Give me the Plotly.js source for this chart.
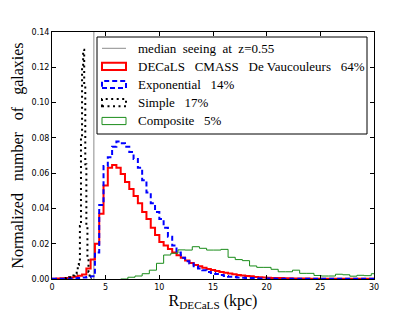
<!DOCTYPE html>
<html>
<head>
<meta charset="utf-8">
<script src="https://cdn.plot.ly/plotly-3.0.1.min.js"></script>
<style>html,body{margin:0;padding:0;background:#fff;}#chart{width:415px;height:312px;}</style>
</head>
<body>
<div id="chart"></div>
<script>
// ---- data ----
const seeingKpc = [3.9];
const binWidthMain = 0.4;      // kpc, De Vaucouleurs & Exponential
const deVaucouleurs = [
  0.0002,0.0003,0.0004,0.0006,0.0009,0.0013,0.0018,0.0025,0.006,0.011,
  0.020,0.037,0.053,0.063,0.0646,0.063,0.0595,0.055,0.051,0.047,
  0.043,0.038,0.034,0.029,0.025,0.021,0.019,0.017,0.015,0.0135,
  0.012,0.0105,0.009,0.008,0.0072,0.0064,0.0057,0.0051,0.0045,0.004,
  0.0035,0.0031,0.0027,0.0023,0.002,0.0017,0.0015,0.0012,0.001,0.0009,
  0.0007,0.0006,0.0005,0.0005,0.0004,0.0004,0.0003,0.0003,0.0003,0.0003,
  0.0002,0.0002,0.0002,0.0002,0.0002,0.0002,0.0002,0.0001,0.0001,0.0001,
  0.0001,0.0001,0.0001,0.0001,0.0001
];
const exponential = [
  0.0001,0.0001,0.0002,0.0002,0.0003,0.0004,0.0006,0.0008,0.0012,0.0015,
  0.015,0.042,0.064,0.069,0.075,0.078,0.077,0.075,0.072,0.068,
  0.063,0.056,0.049,0.043,0.038,0.034,0.029,0.024,0.019,0.015,
  0.012,0.010,0.0088,0.0072,0.006,0.005,0.004,0.0034,0.0028,0.0022,
  0.0017,0.0013,0.0011,0.0009,0.0007,0.0006,0.0005,0.0004,0.0003,0.0003,
  0.0003,0.0003,0.0002,0.0002,0.0002,0.0002,0.0002,0.0002,0.0001,0.0001,
  0.0001,0.0001,0.0001,0.0001,0.0001,0.0001,0.0001,0.0001,0.0001,0.0001,
  0.0001,0.0001,0.0001,0.0001,0.0001
];
const simpleStart = 1.2, simpleBinWidth = 0.1;
const simple = [
  0.0003,0.0005,0.0005,0.0008,0.001,0.001,0.0012,0.0015,0.002,0.0025,
  0.003,0.005,0.008,0.01,0.03,0.08,0.12,0.13,0.11,0.065,
  0.03,0.012,0.004,0.001,0
];
const compositeStart = 6.4, compositeBinWidth = 0.667;
const composite = [
  0,0.001,0.0017,0.003,0.005,0.0089,0.0136,0.0146,0.0165,0.0164,
  0.0183,0.0174,0.0164,0.0164,0.0168,0.0123,0.011,0.0104,0.0074,0.0066,
  0.0066,0.0055,0.0041,0.0041,0.005,0.0032,0.0032,0.002,0.0017,0.0017,
  0.0027,0.0024,0.0016,0.0021,0.0019,0.003
];
const legendLabels = [
  'median&nbsp; seeing&nbsp; at&nbsp; z=0.55',
  'DECaLS&nbsp;&nbsp; CMASS&nbsp;&nbsp; De Vaucouleurs&nbsp;&nbsp; 64%',
  'Exponential&nbsp;&nbsp; 14%',
  'Simple&nbsp;&nbsp; 17%',
  'Composite&nbsp;&nbsp; 5%'
];
const xTicks = [0,5,10,15,20,25,30];
const yTicks = [0,0.02,0.04,0.06,0.08,0.10,0.12,0.14];

// ---- styles ----
const RED = '#ff0000', BLUE = '#0000ff', BLACK = '#000000', GREEN = '#1a8c1a', GRAY = '#8c8c8c';
const serif = 'Liberation Serif, Times New Roman, serif';

function stepTrace(vals, x0, dx, line) {
  return {type:'scatter', mode:'lines', x0:x0, dx:dx,
          y: vals.concat([vals[vals.length-1]]),
          line: Object.assign({shape:'hv'}, line), hoverinfo:'skip', showlegend:false};
}

const traces = [
  {type:'scatter', mode:'lines', x:[seeingKpc[0], seeingKpc[0]], y:[0, 0.14],
   line:{color:GRAY, width:1}, showlegend:false, hoverinfo:'skip'},
  stepTrace(deVaucouleurs, 0, binWidthMain, {color:RED, width:2}),
  stepTrace(exponential, 0, binWidthMain, {color:BLUE, width:2, dash:'5px,3px'}),
  stepTrace(simple, simpleStart, simpleBinWidth, {color:BLACK, width:2, dash:'2px,3.5px'}),
  stepTrace(composite, compositeStart, compositeBinWidth, {color:GREEN, width:1})
];

// pixel -> paper helpers for the hand-drawn legend
const ML = 52, MR = 41, MT = 32, MB = 33, PW = 415 - ML - MR, PH = 312 - MT - MB;
const px = v => (v - ML) / PW;
const py = v => (312 - MB - v) / PH;

const rowsY = [48.3, 66.3, 84.5, 102.7, 121];
const hx0 = 102, hx1 = 126, hh = 3.6, tx = 136;
const shapes = [
  {type:'rect', xref:'paper', yref:'paper', x0:px(97), x1:px(367), y0:py(134), y1:py(37),
   line:{color:'#000', width:1}, fillcolor:'#fff', layer:'above'},
  {type:'line', xref:'paper', yref:'paper', x0:px(hx0), x1:px(hx1), y0:py(rowsY[0]), y1:py(rowsY[0]),
   line:{color:GRAY, width:1}, layer:'above'}
];
const handleStyles = [
  {color:RED, width:2},
  {color:BLUE, width:2, dash:'5px,3px'},
  {color:BLACK, width:2, dash:'2px,3.5px'},
  {color:GREEN, width:1}
];
handleStyles.forEach((ln, i) => {
  const r = rowsY[i+1];
  shapes.push({type:'rect', xref:'paper', yref:'paper', x0:px(hx0), x1:px(hx1),
    y0:py(r + hh), y1:py(r - hh), line:ln, fillcolor:'rgba(0,0,0,0)', layer:'above'});
});
const annotations = legendLabels.map((t, i) => ({
  xref:'paper', yref:'paper', x:px(tx), y:py(rowsY[i]), xanchor:'left', yanchor:'middle',
  text:t, showarrow:false, font:{family:serif, size:13, color:'#000'}
}));

const axisCommon = {
  showgrid:false, zeroline:false, showline:true, linecolor:'#000', linewidth:1,
  mirror:'ticks', ticks:'inside', ticklen:4, tickwidth:1, tickcolor:'#000',
  tickfont:{family:'DejaVu Sans, sans-serif', size:8, color:'#000'}
};

const layout = {
  width:415, height:312,
  margin:{l:ML, r:MR, t:MT, b:MB, pad:0},
  paper_bgcolor:'#fff', plot_bgcolor:'#fff',
  showlegend:false,
  xaxis: Object.assign({}, axisCommon, {
    range:[0,30], tickvals:xTicks, ticktext:xTicks.map(String),
    title:{text:'R<sub>DECaLS</sub> (kpc)', font:{family:serif, size:16, color:'#000'}, standoff:1}
  }),
  yaxis: Object.assign({}, axisCommon, {
    range:[0,0.14], tickvals:yTicks, tickformat:'.2f',
    title:{text:'Normalized&nbsp;&nbsp; number&nbsp;&nbsp; of&nbsp;&nbsp; galaxies', font:{family:serif, size:16, color:'#000'}, standoff:3}
  }),
  shapes:shapes, annotations:annotations
};

Plotly.newPlot('chart', traces, layout, {staticPlot:true, displayModeBar:false});
</script>
</body>
</html>
